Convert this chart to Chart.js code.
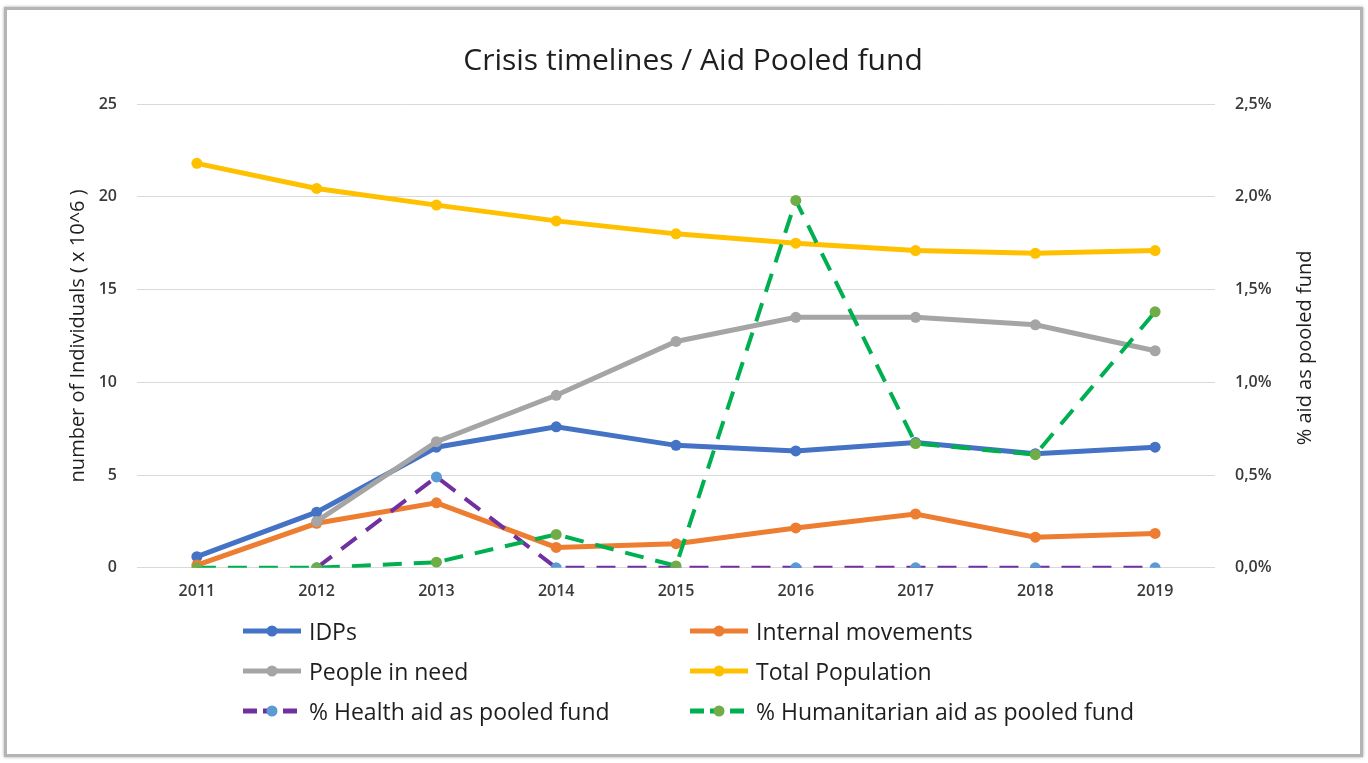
<!DOCTYPE html>
<html>
<head>
<meta charset="utf-8">
<script src="https://cdn.jsdelivr.net/npm/chart.js@4/dist/chart.umd.min.js"></script>
<style>
  html, body { margin: 0; padding: 0; background: #fff; }
  #wrap { position: relative; width: 1368px; height: 763px; overflow: hidden; }
  #frame { position: absolute; left: 4px; top: 7px; width: 1353px; height: 744px;
           border: 3px solid #b4b4b4; box-shadow: 0 0 3px rgba(0,0,0,0.35); }
  canvas { position: absolute; left: 0; top: 0; }
  #legend { position: absolute; left: 243px; top: 614px; display: grid;
            grid-template-columns: 447px 447px; row-gap: 6px;
            font-family: "Open Sans", sans-serif; font-size: 23px; color: #1e1e1e; }
  .item { display: flex; align-items: center; height: 34px; }
  .item svg { margin-right: 8px; }
</style>
</head>
<body>
<div id="wrap">
  <div id="frame"></div>
  <canvas id="chart" width="1368" height="763"></canvas>
  <div id="legend"></div>
</div>
<script>
const years = ["2011", "2012", "2013", "2014", "2015", "2016", "2017", "2018", "2019"];

// millions of individuals (left axis)
const idps = [0.6, 3.0, 6.5, 7.6, 6.6, 6.3, 6.75, 6.15, 6.5];
const internalMovements = [0.15, 2.4, 3.5, 1.1, 1.3, 2.15, 2.9, 1.65, 1.85];
const peopleInNeed = [null, 2.5, 6.8, 9.3, 12.2, 13.5, 13.5, 13.1, 11.7];
const totalPopulation = [21.8, 20.45, 19.55, 18.7, 18.0, 17.5, 17.1, 16.95, 17.1];

// percent of aid as pooled fund (right axis)
const healthPooled = [null, 0, 0.49, 0, 0, 0, 0, 0, 0];
const humanitarianPooled = [0, 0, 0.03, 0.18, 0.01, 1.98, 0.67, 0.61, 1.38];

const leftTicks = [0, 5, 10, 15, 20, 25];
const rightTicks = [0, 0.5, 1, 1.5, 2, 2.5];

const FONT = "'Open Sans', sans-serif";
const RIGHT_TITLE = "% aid as pooled fund";

function solid(label, data, color, order) {
  return {
    label, data, yAxisID: "y", order,
    borderColor: color, backgroundColor: color,
    pointBackgroundColor: color, pointBorderColor: color,
    borderWidth: 5, pointRadius: 5.5, pointBorderWidth: 0, tension: 0,
  };
}
function dashed(label, data, color, pointColor, order) {
  return {
    label, data, yAxisID: "y1", order,
    borderColor: color, backgroundColor: pointColor,
    pointBackgroundColor: pointColor, pointBorderColor: pointColor,
    borderWidth: 4, borderDash: [19, 12], pointRadius: 5.5, pointBorderWidth: 0, tension: 0,
  };
}

const datasets = [
  solid("IDPs", idps, "#4472C4", 5),
  solid("Internal movements", internalMovements, "#ED7D31", 4),
  solid("People in need", peopleInNeed, "#A5A5A5", 3),
  solid("Total Population", totalPopulation, "#FFC000", 2),
  dashed("% Health aid as pooled fund", healthPooled, "#7030A0", "#5B9BD5", 1),
  dashed("% Humanitarian aid as pooled fund", humanitarianPooled, "#00B050", "#70AD47", 0),
];

// right axis title reads bottom-to-top like the left one
const rightTitle = {
  id: "rightTitle",
  afterDraw(chart) {
    const { ctx, chartArea } = chart;
    ctx.save();
    ctx.translate(1305, (chartArea.top + chartArea.bottom) / 2 + 12);
    ctx.rotate(-Math.PI / 2);
    ctx.font = "20px " + FONT;
    ctx.fillStyle = "#1e1e1e";
    ctx.textAlign = "center";
    ctx.textBaseline = "middle";
    ctx.fillText(RIGHT_TITLE, 0, 0);
    ctx.restore();
  },
};

const chart = new Chart(document.getElementById("chart"), {
  type: "line",
  data: { labels: years, datasets },
  plugins: [rightTitle],
  options: {
    responsive: false,
    animation: false,
    layout: { padding: { left: 66, right: 48, top: 0, bottom: 156 } },
    plugins: {
      legend: { display: false },
      tooltip: { enabled: false },
      title: {
        display: true,
        text: "Crisis timelines / Aid Pooled fund",
        color: "#1e1e1e",
        font: { family: FONT, size: 30, weight: "normal" },
        padding: { top: 43, bottom: 25 },
      },
    },
    scales: {
      x: {
        offset: true,
        grid: { display: false },
        border: { display: false },
        ticks: { color: "#3a3a3a", font: { family: FONT, size: 16, weight: 600 }, padding: 6 },
      },
      y: {
        position: "left",
        min: 0, max: 25,
        afterBuildTicks: (s) => { s.ticks = leftTicks.map(v => ({ value: v })); },
        afterFit: (s) => { s.width = 71; },
        grid: { color: "#d9d9d9", lineWidth: 1, drawTicks: false },
        border: { display: false },
        ticks: { color: "#3a3a3a", font: { family: FONT, size: 16, weight: 600 }, padding: 20 },
        title: {
          display: true, text: "number of Individuals ( x 10^6 )",
          color: "#1e1e1e", font: { family: FONT, size: 20 }, padding: 0,
        },
      },
      y1: {
        position: "right",
        min: 0, max: 2.5,
        afterBuildTicks: (s) => { s.ticks = rightTicks.map(v => ({ value: v })); },
        afterFit: (s) => { s.width = 105; },
        grid: { display: false, drawTicks: false },
        border: { display: false },
        ticks: {
          color: "#3a3a3a", font: { family: FONT, size: 16, weight: 600 }, padding: 20,
          callback: (v) => v.toFixed(1).replace(".", ",") + "%",
        },
      },
    },
  },
});

// html legend, two columns, same order as the datasets array
const legendEl = document.getElementById("legend");
chart.data.datasets.forEach((ds) => {
  const item = document.createElement("div");
  item.className = "item";
  const dash = ds.borderDash ? 'stroke-dasharray="14 6"' : "";
  item.innerHTML =
    '<svg width="58" height="14">' +
    '<line x1="0" y1="7" x2="58" y2="7" stroke="' + ds.borderColor + '" stroke-width="5" ' + dash + '/>' +
    '<circle cx="29" cy="7" r="5.5" fill="' + ds.pointBackgroundColor + '"/></svg>' +
    "<span>" + ds.label + "</span>";
  legendEl.appendChild(item);
});
</script>
</body>
</html>
